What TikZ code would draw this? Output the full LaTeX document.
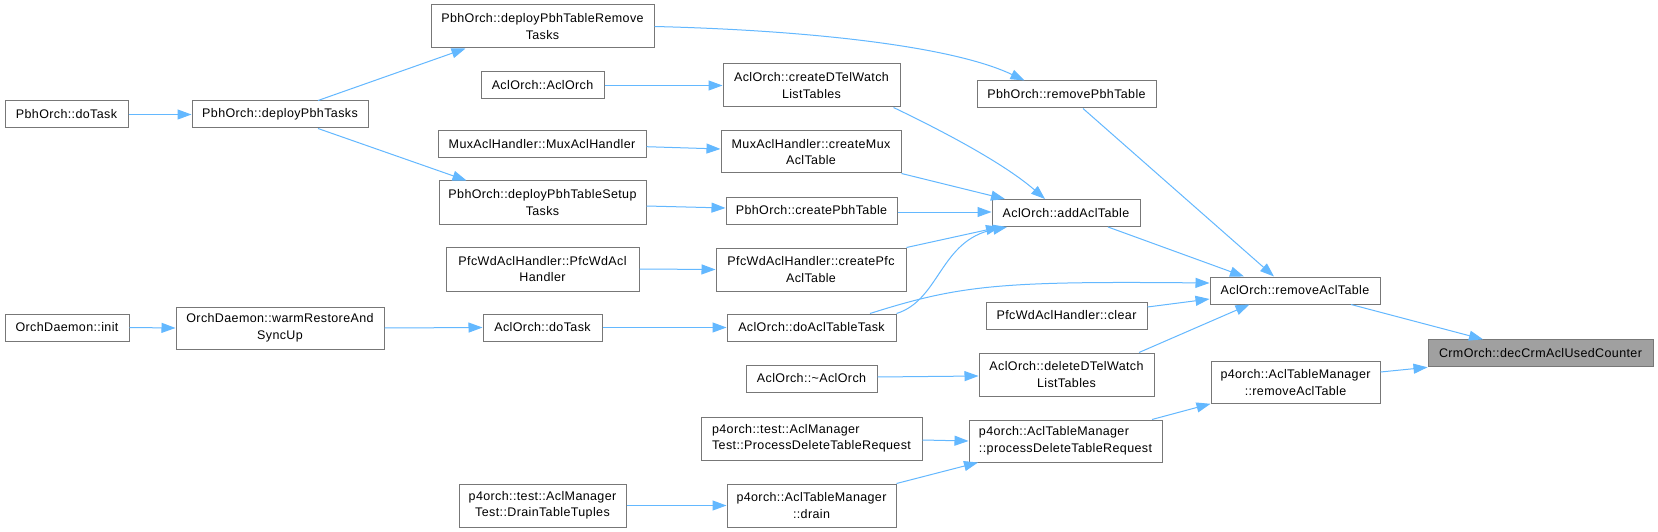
\documentclass[tikz,border=0pt]{standalone}
\usepackage{fontspec}
\newfontfamily\lbl[LetterSpace=3]{Liberation Sans}
\usetikzlibrary{arrows.meta}
\definecolor{edgeblue}{HTML}{63B8FF}
\definecolor{boxgray}{HTML}{777777}
\definecolor{rootfill}{HTML}{A0A0A0}
\tikzset{
  box/.style={draw=boxgray, line width=1pt, fill=white, inner sep=0pt, text=black,
    font=\lbl\fontsize{12.5}{16.5}\selectfont, minimum height=27pt, align=center},
  tall/.style={minimum height=43pt},
  rootbox/.style={box, fill=rootfill},
  edge/.style={draw=edgeblue, line width=1pt, -{Triangle[length=14pt,width=10pt]}},
}
\begin{document}
\begin{tikzpicture}[x=1pt,y=-1pt]
\useasboundingbox[fill=white] (0,0) rectangle (1658,532);
% column 1
\node[box, minimum width=123pt] (pdotask) at (66.5,114.5) {PbhOrch::doTask};
\node[box, minimum width=124pt] (odinit) at (67,327.5) {OrchDaemon::init};
% column 2
\node[box, minimum width=176pt] (deploy) at (280,114.5) {PbhOrch::deployPbhTasks};
\node[box, tall, minimum width=208pt, minimum height=42pt] (warm) at (280,328) {OrchDaemon::warmRestoreAnd\\SyncUp};
% column 3
\node[box, tall, minimum width=223pt] (rmtasks) at (542.5,26.5) {PbhOrch::deployPbhTableRemove\\Tasks};
\node[box, minimum width=123pt] (aclctor) at (542.5,85.5) {AclOrch::AclOrch};
\node[box, minimum width=208pt] (muxctor) at (542,144) {MuxAclHandler::MuxAclHandler};
\node[box, tall, minimum width=207pt] (setup) at (542.5,202.5) {PbhOrch::deployPbhTableSetup\\Tasks};
\node[box, tall, minimum width=193pt, minimum height=44pt] (pfcctor) at (542.5,269) {PfcWdAclHandler::PfcWdAcl\\Handler};
\node[box, minimum width=119pt] (acldotask) at (542.5,327.5) {AclOrch::doTask};
\node[box, tall, minimum width=167pt] (draintuples) at (542.5,505.5) {p4orch::test::AclManager\\Test::DrainTableTuples};
% column 4
\node[box, tall, minimum width=177pt] (cdtel) at (811.5,85.5) {AclOrch::createDTelWatch\\ListTables};
\node[box, tall, minimum width=180pt, minimum height=42pt] (cmux) at (811,152) {MuxAclHandler::createMux\\AclTable};
\node[box, minimum width=171pt] (cpbh) at (811.5,210.5) {PbhOrch::createPbhTable};
\node[box, tall, minimum width=190pt] (cpfc) at (811,269.5) {PfcWdAclHandler::createPfc\\AclTable};
\node[box, minimum width=169pt] (doacl) at (811.5,327.5) {AclOrch::doAclTableTask};
\node[box, minimum width=131pt] (dtor) at (811.5,378.5) {AclOrch::\textasciitilde AclOrch};
\node[box, tall, minimum width=221pt, align=left] (procreq) at (811.5,438.5) {p4orch::test::AclManager\\Test::ProcessDeleteTableRequest};
\node[box, tall, minimum width=169pt] (drain) at (811.5,505.5) {p4orch::AclTableManager\\::drain};
% column 5
\node[box, minimum width=179pt] (rmpbh) at (1066.5,94.5) {PbhOrch::removePbhTable};
\node[box, minimum width=148pt] (addacl) at (1066,213) {AclOrch::addAclTable};
\node[box, minimum width=161pt] (pfcclear) at (1066.5,315.5) {PfcWdAclHandler::clear};
\node[box, tall, minimum width=175pt] (ddtel) at (1066.5,374.5) {AclOrch::deleteDTelWatch\\ListTables};
\node[box, tall, minimum width=193pt, minimum height=42pt, align=left] (procdel) at (1065.5,441) {p4orch::AclTableManager\\::processDeleteTableRequest};
% column 6
\node[box, minimum width=170pt] (rmacl) at (1295,290.5) {AclOrch::removeAclTable};
\node[box, minimum width=169pt, minimum height=42pt] (p4rm) at (1295.5,382.3) {p4orch::AclTableManager\\::removeAclTable};
% root
\node[rootbox, minimum width=225pt] (crm) at (1540.5,353.3) {CrmOrch::decCrmAclUsedCounter};

% edges
\draw[edge] (pdotask.east) -- (deploy.west);
\draw[edge] ([xshift=38pt]deploy.north) -- ([xshift=-77pt]rmtasks.south);
\draw[edge] ([xshift=38pt]deploy.south) -- ([xshift=-76pt]setup.north);
\draw[edge] (rmtasks.east) .. controls (800,30) and (950,45) .. ([xshift=-42pt]rmpbh.north);
\draw[edge] (aclctor.east) -- (cdtel.west);
\draw[edge] ([yshift=-2.7pt]muxctor.east) -- ([yshift=3pt]cmux.west);
\draw[edge] ([yshift=-3.5pt]setup.east) -- ([yshift=2.5pt]cpbh.west);
\draw[edge] (pfcctor.east) -- (cpfc.west);
\draw[edge] (odinit.east) -- (warm.west);
\draw[edge] (warm.east) -- (acldotask.west);
\draw[edge] (acldotask.east) -- (doacl.west);
\draw[edge] ([yshift=1.5pt]dtor.east) -- ([yshift=-1.5pt]ddtel.west);
\draw[edge] ([yshift=-1.5pt]procreq.east) -- (procdel.west);
\draw[edge] (draintuples.east) -- (drain.west);
\draw[edge] (drain.north east) -- ([xshift=-87.5pt]procdel.south);
\draw[edge] ([xshift=82pt]cdtel.south) .. controls (930,125) and (1000,160) .. ([xshift=-21pt]addacl.north);
\draw[edge] (cmux.south east) -- ([xshift=-61pt]addacl.north);
\draw[edge] ([yshift=-1.5pt]cpbh.east) -- ([yshift=1pt]addacl.west);
\draw[edge] (cpfc.north east) -- ([xshift=-66pt]addacl.south);
\draw[edge] (doacl.north east) .. controls (940,300) and (940,240) .. ([xshift=-59pt]addacl.south);
\draw[edge] ([xshift=58.5pt]doacl.north) .. controls (960,285) and (1000,281) .. ([yshift=7.5pt]rmacl.west);
\draw[edge] ([xshift=16.5pt]rmpbh.south) -- ([xshift=-21pt]rmacl.north);
\draw[edge] ([xshift=42pt]addacl.south) -- ([xshift=-51pt]rmacl.north);
\draw[edge] ([yshift=8.5pt]pfcclear.east) -- ([yshift=-8.5pt]rmacl.west);
\draw[edge] ([xshift=72.5pt]ddtel.north) -- ([xshift=-45.5pt]rmacl.south);
\draw[edge] ([xshift=86.5pt]procdel.north) -- (p4rm.south west);
\draw[edge] ([xshift=56pt]rmacl.south) -- ([xshift=-57.5pt]crm.north);
\draw[edge] ([yshift=10.3pt]p4rm.east) -- (crm.south west);
\end{tikzpicture}
\end{document}
